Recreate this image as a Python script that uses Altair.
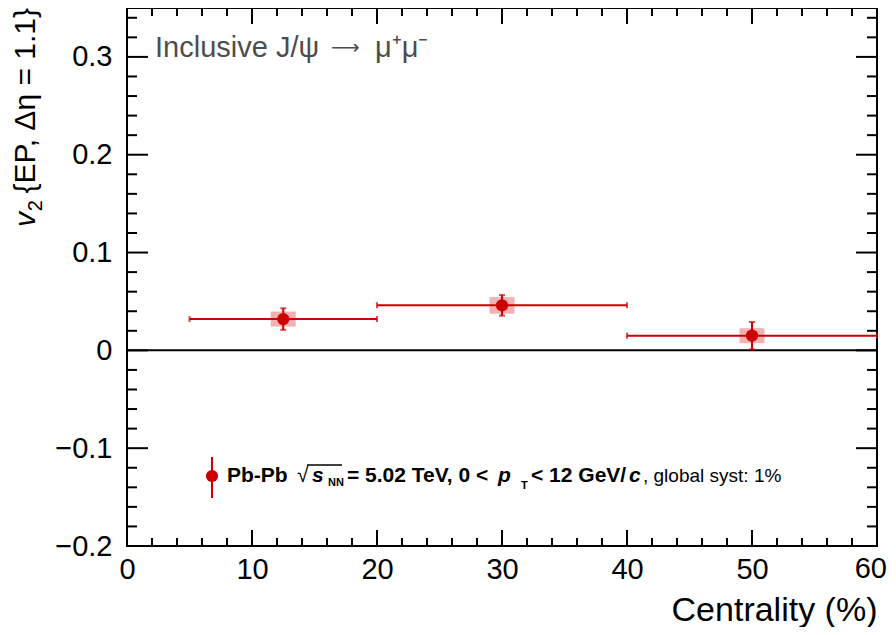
import altair as alt
import pandas as pd

# ---- data ----
centrality = [12.5, 30.0, 50.0]
cent_low = [5.0, 20.0, 40.0]
cent_high = [20.0, 40.0, 60.0]
v2 = [0.032, 0.046, 0.015]
stat_err = [0.011, 0.0105, 0.014]
syst_err = [0.0077, 0.0085, 0.0077]

x_major = [0, 10, 20, 30, 40, 50, 60]
x_minor = [2, 4, 6, 8, 12, 14, 16, 18, 22, 24, 26, 28, 32, 34, 36, 38,
           42, 44, 46, 48, 52, 54, 56, 58]
y_major = [-0.2, -0.1, 0.0, 0.1, 0.2, 0.3]
y_minor = [-0.18, -0.16, -0.14, -0.12, -0.08, -0.06, -0.04, -0.02,
           0.02, 0.04, 0.06, 0.08, 0.12, 0.14, 0.16, 0.18,
           0.22, 0.24, 0.26, 0.28, 0.32, 0.34]

# ---- layout constants ----
W, H = 750, 538
FONT = "Liberation Sans"
RED = "#cc0000"
BOX_HW = 1.0  # half width of the systematic boxes (x units)

df = pd.DataFrame({
    "cent": centrality, "lo": cent_low, "hi": cent_high, "v2": v2,
    "stat": stat_err, "syst": syst_err,
})
df["ylo"] = df["v2"] - df["stat"]
df["yhi"] = df["v2"] + df["stat"]
df["sylo"] = df["v2"] - df["syst"]
df["syhi"] = df["v2"] + df["syst"]
df["bxlo"] = df["cent"] - BOX_HW
df["bxhi"] = df["cent"] + BOX_HW

xscale = alt.Scale(domain=[0, 60], nice=False, zero=False)
yscale = alt.Scale(domain=[-0.2, 0.35], nice=False, zero=False)

# the last x label is drawn separately (nudged left so it stays inside the page)
xaxis = alt.Axis(values=x_major, ticks=False, tickSize=0, domain=False, grid=False,
                 labelFont=FONT, labelFontSize=29, labelColor="black", labelPadding=9,
                 labelFlush=False, labelOverlap=False,
                 labelExpr="datum.value == 60 ? '' : datum.label",
                 titleFont=FONT, titleFontSize=34, titleFontWeight="normal", titleColor="black",
                 titleAnchor="end", titleAlign="right", titleBaseline="alphabetic",
                 titleX=W, titleY=74)
yaxis = alt.Axis(values=y_major, ticks=False, tickSize=0, domain=False, grid=False,
                 labelFont=FONT, labelFontSize=29, labelColor="black", labelPadding=15,
                 labelFlush=False, labelOverlap=False,
                 labelExpr="datum.value == 0 ? '0' : format(datum.value, '.1f')",
                 title=None)


def X(field):
    return alt.X(field, type="quantitative", scale=xscale, axis=xaxis, title="Centrality (%)")


def Y(field):
    return alt.Y(field, type="quantitative", scale=yscale, axis=yaxis, title=None)


base = alt.Chart(df)

zero_line = alt.Chart(pd.DataFrame({"z": [0.0]})).mark_rule(color="black", strokeWidth=2).encode(
    y=Y("z"), x=alt.value(0), x2=alt.value(W))

syst_box = base.mark_rect(color=RED, opacity=0.3).encode(
    x=X("bxlo"), x2="bxhi", y=Y("sylo"), y2="syhi")

hbar = base.mark_rule(color=RED, strokeWidth=2).encode(x=X("lo"), x2="hi", y=Y("v2"))
hcap_lo = base.mark_tick(color=RED, orient="vertical", size=6, thickness=2).encode(x=X("lo"), y=Y("v2"))
hcap_hi = base.mark_tick(color=RED, orient="vertical", size=6, thickness=2).encode(x=X("hi"), y=Y("v2"))

vbar = base.mark_rule(color=RED, strokeWidth=2).encode(x=X("cent"), y=Y("ylo"), y2="yhi")
vcap_lo = base.mark_tick(color=RED, orient="horizontal", size=6, thickness=2).encode(x=X("cent"), y=Y("ylo"))
vcap_hi = base.mark_tick(color=RED, orient="horizontal", size=6, thickness=2).encode(x=X("cent"), y=Y("yhi"))

points = base.mark_circle(color=RED, opacity=1, size=150).encode(x=X("cent"), y=Y("v2"))


def xticks(vals, length):
    d = alt.Chart(pd.DataFrame({"t": vals}))
    bot = d.mark_rule(color="black", strokeWidth=2).encode(x=X("t"), y=alt.value(H), y2=alt.value(H - length))
    top = d.mark_rule(color="black", strokeWidth=2).encode(x=X("t"), y=alt.value(0), y2=alt.value(length))
    return [bot, top]


def yticks(vals, length):
    d = alt.Chart(pd.DataFrame({"t": vals}))
    left = d.mark_rule(color="black", strokeWidth=2).encode(y=Y("t"), x=alt.value(0), x2=alt.value(length))
    right = d.mark_rule(color="black", strokeWidth=2).encode(y=Y("t"), x=alt.value(W), x2=alt.value(W - length))
    return [left, right]


dummy = pd.DataFrame({"d": [0]})


def label(text, x, y, size, weight="normal", style="normal", color="black", angle=0,
          align="left", font=FONT, baseline="alphabetic"):
    return alt.Chart(dummy).mark_text(
        text=text, font=font, fontSize=size, fontWeight=weight, fontStyle=style,
        color=color, angle=angle, align=align, baseline=baseline,
    ).encode(x=alt.value(x), y=alt.value(y))


GRAY = "#4d4d4d"
texts = [
    # last x tick label
    label(str(x_major[-1]), W + 10, H + 9, 29, align="right", baseline="top"),
    # y-axis title (rotated)
    label("{EP, Δη = 1.1}", -92, 0, 30, angle=270, align="right"),
    label("2", -85, 192, 20, angle=270, align="right"),
    label("v", -92, 204, 30, style="italic", angle=270, align="right"),
    # header
    label("Inclusive J/ψ", 28, 49, 29, color=GRAY),
    label("⟶", 204, 46, 20, color=GRAY, font="DejaVu Sans"),
    label("μ⁺μ⁻", 248, 49, 29, color=GRAY),
    # legend
    label("Pb-Pb", 100, 474, 21, weight="bold"),
    label("√", 170, 474, 21),
    label("s", 185, 474, 21, weight="bold", style="italic"),
    label("NN", 201, 478, 11, weight="bold"),
    label("= 5.02 TeV, 0 <", 220, 474, 21, weight="bold"),
    label("p", 371, 474, 21, weight="bold", style="italic"),
    label("T", 394, 481, 11, weight="bold"),
    label("< 12 GeV/", 404, 474, 21, weight="bold"),
    label("c", 502, 474, 21, weight="bold", style="italic"),
    label(", global syst: 1%", 516, 474, 19),
]

sqrt_bar = alt.Chart(dummy).mark_rule(color="black", strokeWidth=1.5).encode(
    x=alt.value(180), x2=alt.value(215), y=alt.value(457))

leg_line = alt.Chart(dummy).mark_rule(color=RED, strokeWidth=2).encode(
    x=alt.value(85), y=alt.value(449), y2=alt.value(490))
leg_pt = alt.Chart(dummy).mark_circle(color=RED, opacity=1, size=150).encode(
    x=alt.value(85), y=alt.value(468))

layers = [zero_line, syst_box, hbar, hcap_lo, hcap_hi, vbar, vcap_lo, vcap_hi, points]
layers += xticks(x_major, 16) + xticks(x_minor, 8) + yticks(y_major, 21) + yticks(y_minor, 10)
layers += texts + [sqrt_bar, leg_line, leg_pt]

chart = alt.layer(*layers).properties(
    width=W, height=H,
    padding={"left": 119, "top": 0, "right": 11, "bottom": 81},
    autosize=alt.AutoSizeParams(type="none"),
).configure_view(stroke="black", strokeWidth=2)

chart.save("out.html", embed_options={"renderer": "svg", "actions": False})
